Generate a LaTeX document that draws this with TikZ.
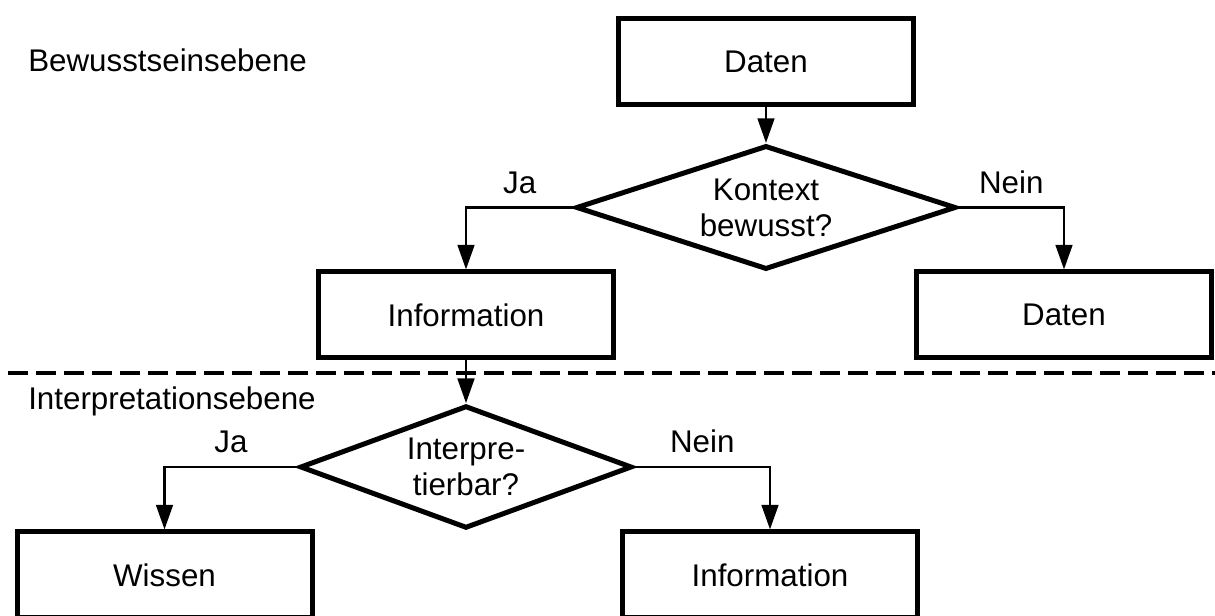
\documentclass[tikz,border=0pt]{standalone}
\usepackage{fontspec}
\setmainfont{Liberation Sans}
\usetikzlibrary{arrows.meta,shapes.geometric,calc}

\begin{document}
\begin{tikzpicture}[x=0.75pt,y=-0.75pt,
  font=\fontsize{23.5}{27}\selectfont,
  box/.style={draw,line width=3.75pt,minimum width=221.25pt,minimum height=64.5pt,inner sep=0pt},
  decision/.style={draw,diamond,line width=3.75pt,shape aspect=3,inner sep=0pt,align=center},
  conn/.style={line width=2pt,-{Triangle[length=18.5pt,width=12.5pt]}},
  lbl/.style={anchor=base,yshift=10.5pt,inner sep=0pt}]
  \clip (0,0) rectangle (1215,616);
  % ---- Bewusstseinsebene ----
  \node[anchor=base west,inner sep=0pt] (lvlAware) at (28,72) {Bewusstseinsebene};
  \node[box] (dataTop) at (766,62) {Daten};
  \node[decision,minimum width=285pt,minimum height=93pt] (ctx) at (766,207.5) {Kontext\\bewusst?};
  \node[box] (infoA) at (466,315) {Information};
  \node[box] (dataB) at (1064,315) {Daten};
  \draw[conn] (dataTop) -- (ctx);
  \draw[conn] (ctx.west) -- node[lbl]{Ja} (ctx.west -| infoA.north) -- (infoA.north);
  \draw[conn] (ctx.east) -- node[lbl]{Nein} (ctx.east -| dataB.north) -- (dataB.north);
  % ---- Trennlinie ----
  \coordinate (sepL) at (8,373);
  \coordinate (sepR) at (1215,373);
  \draw[line width=2.4pt,dash pattern=on 15pt off 6pt] (sepL) -- (sepR);
  % ---- Interpretationsebene ----
  \node[anchor=base west,inner sep=0pt] (lvlInterp) at (28,410) {Interpretationsebene};
  \node[decision,minimum width=249pt,minimum height=92pt] (interp) at (466,467) {Interpre-\\tierbar?};
  \node[box] (know) at (164.5,575) {Wissen};
  \node[box] (infoB) at (770,575) {Information};
  \draw[conn] (infoA) -- (interp);
  \draw[conn] (interp.west) -- node[lbl]{Ja} (interp.west -| know.north) -- (know.north);
  \draw[conn] (interp.east) -- node[lbl]{Nein} (interp.east -| infoB.north) -- (infoB.north);
\end{tikzpicture}
\end{document}
